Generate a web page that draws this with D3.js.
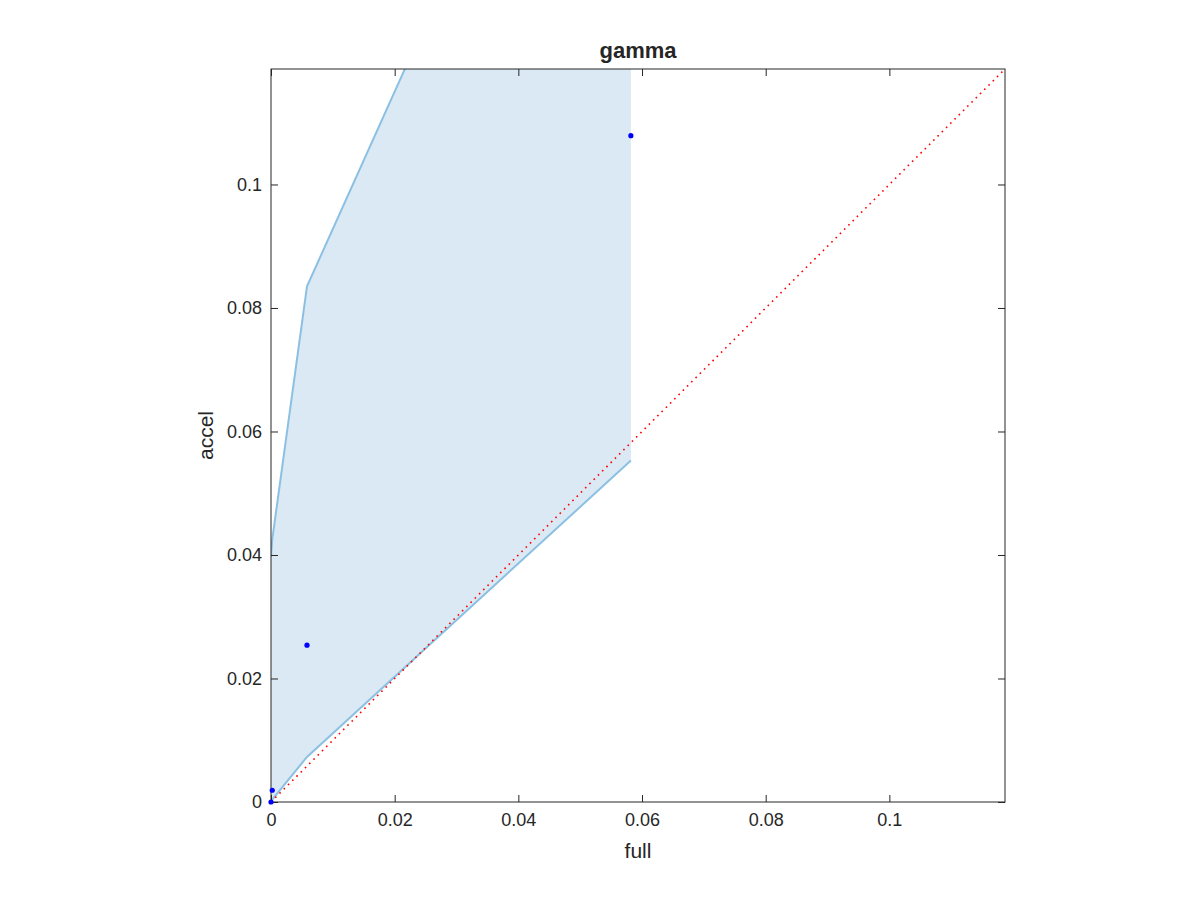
<!DOCTYPE html>
<html>
<head>
<meta charset="utf-8">
<script src="https://cdn.jsdelivr.net/npm/d3@7"></script>
<style>
  body { margin: 0; background: #fff; }
  svg { display: block; }
  text { font-family: "Liberation Sans", Arial, Helvetica, sans-serif; fill: #262626; }
</style>
</head>
<body>
<svg id="chart" width="1200" height="900"></svg>
<script>
// ---- data ----
const title = "gamma";
const xLabel = "full";
const yLabel = "accel";
const fullValues = [0, 0.0002, 0.00582, 0.0582];
const accelValues = [0, 0.0019, 0.0254, 0.1079];
const upperBound = [0.0397, 0.0425, 0.0835, 0.200];
const lowerBound = [0, 0.0004, 0.0073, 0.0553];
const axisMax = 0.1187;
const xTicks = [0, 0.02, 0.04, 0.06, 0.08, 0.1];
const yTicks = [0, 0.02, 0.04, 0.06, 0.08, 0.1];

// ---- layout ----
const svg = d3.select("#chart");
const pL = 271, pR = 1005, pT = 69, pB = 802;
const x = d3.scaleLinear().domain([0, axisMax]).range([pL, pR]);
const y = d3.scaleLinear().domain([0, axisMax]).range([pB, pT]);
const fmt = d => d === 0 ? "0" : d3.format("~g")(d);

svg.append("defs").append("clipPath").attr("id", "plotclip")
  .append("rect").attr("x", pL).attr("y", pT)
  .attr("width", pR - pL).attr("height", pB - pT);

const plot = svg.append("g").attr("clip-path", "url(#plotclip)");

const rows = fullValues.map((f, i) => ({ f, lo: lowerBound[i], hi: upperBound[i], a: accelValues[i] }));

// shaded band
plot.append("path")
  .datum(rows)
  .attr("d", d3.area().x(d => x(d.f)).y0(d => y(d.lo)).y1(d => y(d.hi)))
  .attr("fill", "#dae9f4");

// bound lines
const lineGen = key => d3.line().x(d => x(d.f)).y(d => y(d[key]));
plot.append("path").datum(rows).attr("d", lineGen("hi"))
  .attr("fill", "none").attr("stroke", "#8cc0e2").attr("stroke-width", 2);
plot.append("path").datum(rows).attr("d", lineGen("lo"))
  .attr("fill", "none").attr("stroke", "#8cc0e2").attr("stroke-width", 2);

// diagonal reference
plot.append("line")
  .attr("x1", x(0)).attr("y1", y(0)).attr("x2", x(axisMax)).attr("y2", y(axisMax))
  .attr("stroke", "#ff0000").attr("stroke-width", 1.6)
  .attr("stroke-dasharray", "1.6,4.4");

// axes box with inward ticks
const axG = svg.append("g");
const tickLen = 7;
const axColor = "#262626";
axG.append("rect").attr("x", pL).attr("y", pT)
  .attr("width", pR - pL).attr("height", pB - pT)
  .attr("fill", "none").attr("stroke", axColor).attr("stroke-width", 1);

const xAxisB = d3.axisBottom(x).tickValues(xTicks).tickSize(-tickLen).tickFormat(fmt).tickPadding(11);
const xAxisT = d3.axisTop(x).tickValues(xTicks).tickSize(-tickLen).tickFormat("");
const yAxisL = d3.axisLeft(y).tickValues(yTicks).tickSize(-tickLen).tickFormat(fmt).tickPadding(9);
const yAxisR = d3.axisRight(y).tickValues(yTicks).tickSize(-tickLen).tickFormat("");

function styleAxis(g) {
  g.select(".domain").remove();
  g.selectAll(".tick line").attr("stroke", axColor);
  g.selectAll(".tick text").attr("font-size", 18).attr("fill", axColor)
    .style("font-family", '"Liberation Sans", Arial, sans-serif');
}
axG.append("g").attr("transform", `translate(0,${pB})`).call(xAxisB).call(styleAxis);
axG.append("g").attr("transform", `translate(0,${pT})`).call(xAxisT).call(styleAxis);
axG.append("g").attr("transform", `translate(${pL},0)`).call(yAxisL).call(styleAxis);
axG.append("g").attr("transform", `translate(${pR},0)`).call(yAxisR).call(styleAxis);

// points
svg.append("g").selectAll("circle").data(rows).join("circle")
  .attr("cx", d => x(d.f)).attr("cy", d => y(d.a)).attr("r", 2.6)
  .attr("fill", "#0000ff");

// labels
svg.append("text").attr("x", (pL + pR) / 2).attr("y", 58)
  .attr("text-anchor", "middle").attr("font-size", 22).attr("font-weight", "bold")
  .text(title);
svg.append("text").attr("x", (pL + pR) / 2).attr("y", 858)
  .attr("text-anchor", "middle").attr("font-size", 21).text(xLabel);
svg.append("text").attr("transform", `translate(213,${(pT + pB) / 2}) rotate(-90)`)
  .attr("text-anchor", "middle").attr("font-size", 21).text(yLabel);
</script>
</body>
</html>
